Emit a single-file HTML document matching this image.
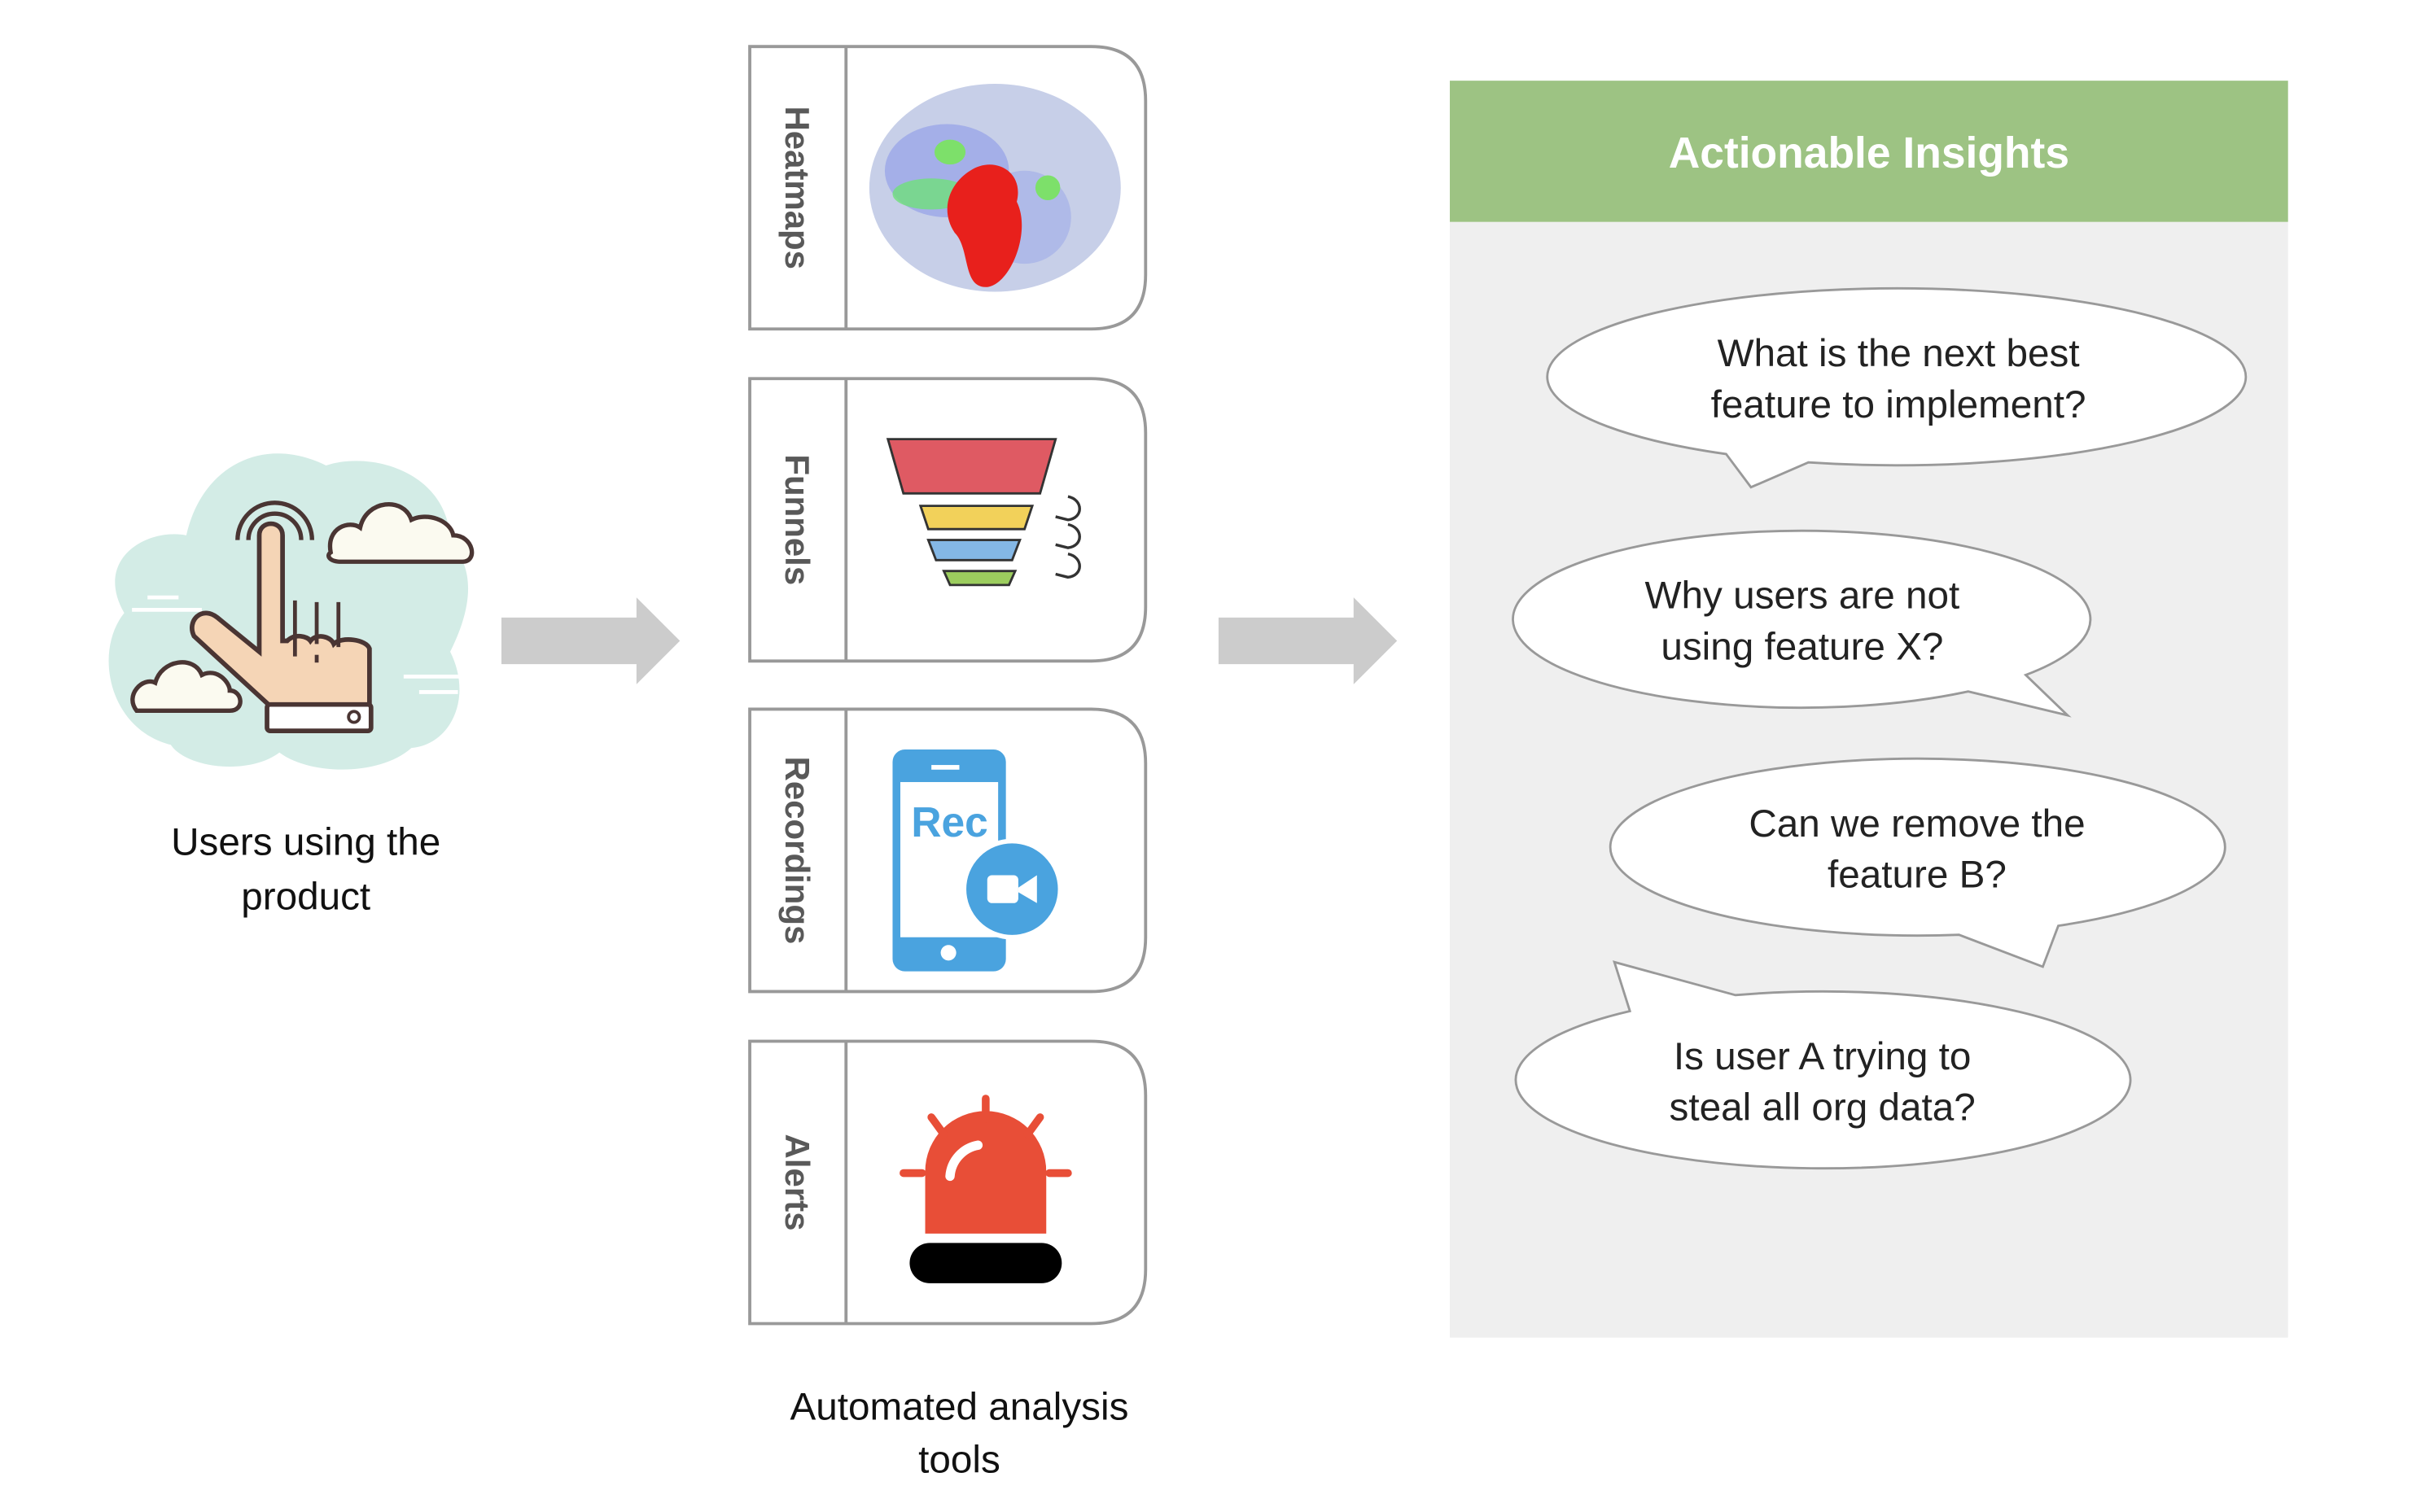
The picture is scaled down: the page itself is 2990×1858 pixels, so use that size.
<!DOCTYPE html>
<html><head><meta charset="utf-8"><style>
html,body{margin:0;padding:0;background:#fff;}
svg{display:block;}
text{font-family:"Liberation Sans",sans-serif;}
</style></head><body>
<svg width="2990" height="1858" viewBox="0 0 1568 974.4" xmlns="http://www.w3.org/2000/svg">
<rect width="1568" height="974.4" fill="#fff"/>
<!-- user icon -->
<g>
<path d="M110 480 C70 470 60 420 80 395 C60 360 95 340 120 345 C130 300 170 280 210 300 C240 290 290 305 290 350 C310 370 300 400 290 420 C305 450 290 480 265 482 C245 500 200 500 180 485 C160 500 120 495 110 480Z" fill="#d3ece6"/>
<g stroke="#fff" stroke-width="2.5"><line x1="85" y1="393" x2="130" y2="393"/><line x1="95" y1="385" x2="115" y2="385"/><line x1="260" y1="436" x2="300" y2="436"/><line x1="270" y1="446" x2="295" y2="446"/></g>
<path d="M213 356 C210 340 225 335 232 340 C236 322 260 320 265 335 C275 330 290 335 292 345 C305 345 308 362 298 362 L220 362 C212 362 210 358 213 356Z" fill="#fbfaf0" stroke="#4a3533" stroke-width="2.8"/>
<path d="M88 458 C80 448 92 436 100 440 C104 425 125 422 130 435 C140 430 148 440 148 445 C156 445 158 458 148 458Z" fill="#fbfaf0" stroke="#4a3533" stroke-width="2.8"/>
<g fill="none" stroke="#4a3533" stroke-width="2.8"><path d="M153 348 A24 24 0 0 1 201 348"/><path d="M160 348 A17 17 0 0 1 194 348"/></g>
<path d="M167 345 C167 335 182 335 182 345 L182 413 L185 413 C190 408 198 410 200 413 C204 408 213 410 215 415 C220 410 236 412 238 418 L238 455 L174 455 L125 410 C120 400 130 390 140 398 L167 420Z" fill="#f5d5b6" stroke="#4a3533" stroke-width="3"/>
<rect x="172" y="454" width="67" height="17" rx="2" fill="#fff" stroke="#4a3533" stroke-width="3"/>
<circle cx="228" cy="462" r="3.5" fill="none" stroke="#4a3533" stroke-width="2"/>
<g stroke="#4a3533" stroke-width="2.5"><line x1="190" y1="387" x2="190" y2="423"/><line x1="204" y1="388" x2="204" y2="415"/><line x1="204" y1="422" x2="204" y2="427"/><line x1="218" y1="388" x2="218" y2="417"/></g>
</g>
<text x="197" y="551" font-size="25" text-anchor="middle" fill="#111">Users using the</text>
<text x="197" y="586" font-size="25" text-anchor="middle" fill="#111">product</text>
<!-- arrows -->
<path d="M323 398 L410 398 L410 385 L438 413 L410 441 L410 428 L323 428Z" fill="#cccccc"/>
<path d="M785 398 L872 398 L872 385 L900 413 L872 441 L872 428 L785 428Z" fill="#cccccc"/>
<!-- cards -->
<g fill="#fff" stroke="#999" stroke-width="2">
<path d="M483 30 L703 30 Q738 30 738 65 L738 177 Q738 212 703 212 L483 212Z"/>
<path d="M483 244 L703 244 Q738 244 738 279 L738 391 Q738 426 703 426 L483 426Z"/>
<path d="M483 457 L703 457 Q738 457 738 492 L738 604 Q738 639 703 639 L483 639Z"/>
<path d="M483 671 L703 671 Q738 671 738 706 L738 818 Q738 853 703 853 L483 853Z"/>
<line x1="545" y1="30" x2="545" y2="212"/><line x1="545" y1="244" x2="545" y2="426"/><line x1="545" y1="457" x2="545" y2="639"/><line x1="545" y1="671" x2="545" y2="853"/>
</g>
<g font-size="22" font-weight="bold" fill="#595959" text-anchor="middle">
<text transform="translate(506,121) rotate(90)">Heatmaps</text>
<text transform="translate(506,335) rotate(90)">Funnels</text>
<text transform="translate(506,548) rotate(90)">Recordings</text>
<text transform="translate(506,762) rotate(90)">Alerts</text>
</g>
<!-- heatmap -->
<ellipse cx="641" cy="121" rx="81" ry="67" fill="#c7cfe8"/>
<ellipse cx="610" cy="110" rx="40" ry="30" fill="#8c9ae8" opacity="0.6"/>
<ellipse cx="660" cy="140" rx="30" ry="30" fill="#8c9ae8" opacity="0.4"/>
<ellipse cx="600" cy="125" rx="25" ry="10" fill="#6fe07a" opacity="0.8"/>
<ellipse cx="612" cy="98" rx="10" ry="8" fill="#7de06a"/>
<ellipse cx="675" cy="121" rx="8" ry="8" fill="#7de06a"/>
<path d="M625 110 C640 100 660 110 655 130 C665 150 650 185 635 185 C620 185 625 160 615 150 C605 135 612 118 625 110Z" fill="#e8201c"/>
<!-- funnel -->
<path d="M572 283 L680 283 L670 318 L582 318Z" fill="#df5a63" stroke="#333" stroke-width="1.5"/>
<path d="M593 326 L665 326 L660 341 L598 341Z" fill="#f2d15a" stroke="#333" stroke-width="1.5"/>
<path d="M598 348 L657 348 L652 361 L603 361Z" fill="#84b7e5" stroke="#333" stroke-width="1.5"/>
<path d="M608 368 L654 368 L650 377 L612 377Z" fill="#9ccd5e" stroke="#333" stroke-width="1.5"/>
<g fill="none" stroke="#333" stroke-width="1.8"><path d="M688 320 C698 322 698 334 688 335 L680 333"/><path d="M688 338 C698 340 698 352 688 353 L680 351"/><path d="M688 357 C698 359 698 371 688 372 L680 370"/></g>
<!-- phone -->
<rect x="575" y="483" width="73" height="143" rx="8" fill="#4aa3df"/>
<rect x="580" y="504" width="63" height="100" fill="#fff"/>
<circle cx="611" cy="614" r="5" fill="#fff"/>
<rect x="600" y="493" width="18" height="3" fill="#fff"/>
<text x="587" y="539" font-size="27" font-weight="bold" fill="#4aa3df">Rec</text>
<circle cx="652" cy="573" r="31" fill="#4aa3df" stroke="#fff" stroke-width="3"/>
<rect x="636" y="564" width="20" height="18" rx="3" fill="#fff"/><path d="M656 572 L668 564 L668 582 L656 575Z" fill="#fff"/>
<!-- alert -->
<path d="M596 795 L596 755 A39 39 0 0 1 674 755 L674 795Z" fill="#e84e37"/>
<path d="M612 758 A22 22 0 0 1 630 738" fill="none" stroke="#fff" stroke-width="6" stroke-linecap="round"/>
<rect x="586" y="801" width="98" height="26" rx="13" fill="#000"/>
<g stroke="#e84e37" stroke-width="5" stroke-linecap="round"><line x1="635" y1="708" x2="635" y2="721"/><line x1="600" y1="720" x2="608" y2="731"/><line x1="670" y1="720" x2="662" y2="731"/><line x1="582" y1="756" x2="594" y2="756"/><line x1="676" y1="756" x2="688" y2="756"/></g>
<text x="618" y="915" font-size="25" text-anchor="middle" fill="#111">Automated analysis</text>
<text x="618" y="949" font-size="25" text-anchor="middle" fill="#111">tools</text>
<!-- insights -->
<rect x="934" y="143" width="540" height="719" fill="#efefef"/>
<rect x="934" y="52" width="540" height="91" fill="#9dc383"/>
<text x="1204" y="108" font-size="28" font-weight="bold" fill="#fff" text-anchor="middle">Actionable Insights</text>
<g fill="#fff" stroke="#999" stroke-width="1.5">
<path d="M1112 292.6 A225 57 0 1 1 1165 298 L1128 314Z"/>
<path d="M1268 445.6 A186 57 0 1 1 1305 435 L1332 461Z"/>
<path d="M1262 602.4 A198 57 0 1 1 1326 596.6 L1316 623Z"/>
<path d="M1118 641.3 A198 57 0 1 1 1050 651.6 L1040 620Z"/>
</g>
<g font-size="25" fill="#222" text-anchor="middle">
<text x="1223" y="236">What is the next best</text><text x="1223" y="269">feature to implement?</text>
<text x="1161" y="392">Why users are not</text><text x="1161" y="425">using feature X?</text>
<text x="1235" y="539">Can we remove the</text><text x="1235" y="572">feature B?</text>
<text x="1174" y="689">Is user A trying to</text><text x="1174" y="722">steal all org data?</text>
</g>
</svg>
</body></html>
